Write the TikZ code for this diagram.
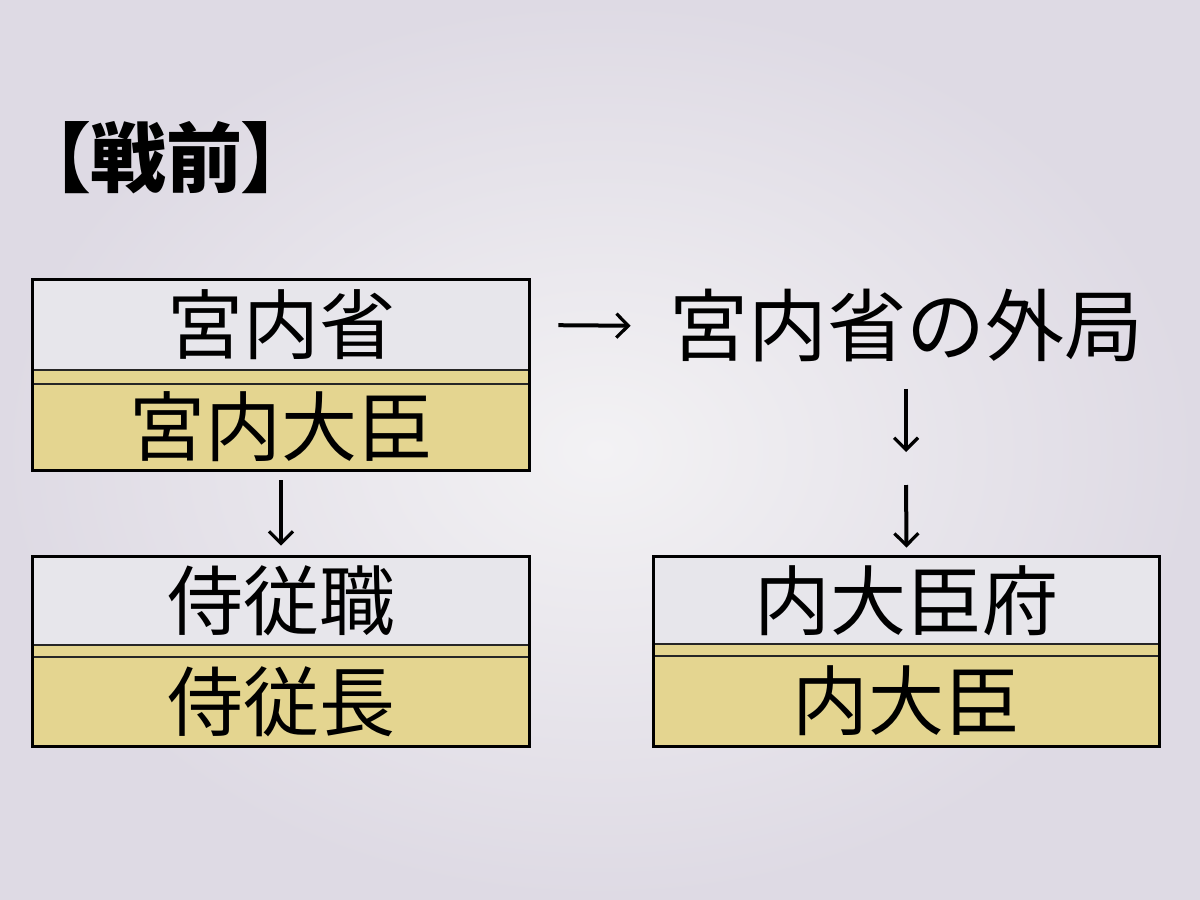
\documentclass[tikz,border=0pt]{standalone}
\usepackage{fontspec}
\newfontfamily\jp{Noto Sans CJK JP}
\newfontfamily\jppalt[RawFeature=+palt]{Noto Sans CJK JP}
\usetikzlibrary{arrows.meta}
\definecolor{bgin}{HTML}{F3F2F4}
\definecolor{bgout}{HTML}{DEDAE4}
\definecolor{cellgray}{HTML}{E7E6EB}
\definecolor{cellyellow}{HTML}{E4D590}
\tikzset{
  celltext/.style={font=\jp\fontsize{38pt}{40pt}\selectfont, text=black, inner sep=0pt},
  topcell/.style={celltext, fill=cellgray, minimum width=248pt, minimum height=45pt},
  botcell/.style={celltext, fill=cellyellow, minimum width=248pt, minimum height=43pt},
  frame/.style={draw=black, line width=1.6pt},
  sepline/.style={draw=black!85, line width=1pt},
  plain/.style={celltext, font=\jp\fontsize{39.5pt}{41pt}\selectfont},
  titletext/.style={font=\jppalt\bfseries\fontsize{38pt}{40pt}\selectfont, text=black, inner sep=0pt},
  glypharrow/.style={draw=black, line width=2pt, -{Straight Barb[length=6pt,width=12pt,line width=1.6pt]}}
}
\begin{document}
\begin{tikzpicture}[x=0.5pt,y=-0.5pt]
\useasboundingbox (0,0) rectangle (1200,900);
\shade[inner color=bgin, outer color=bgout] (0,0) rectangle (1200,900);

% title
\node[titletext] (ttl) at (166,158) {【戦前】};

% box 1
\node[topcell] (t1) at (281,325) {宮内省};
\fill[cellyellow] (33,370) rectangle (529,384);
\node[botcell] (y1) at (281,427) {宮内大臣};
\draw[sepline] (33,370) -- (529,370);
\draw[sepline] (33,384) -- (529,384);
\draw[frame] (t1.north west) rectangle (y1.south east);

% box 2
\node[topcell, minimum height=44pt] (t2) at (281,601) {侍従職};
\fill[cellyellow] (33,645) rectangle (529,657);
\node[botcell, minimum height=44.5pt] (y2) at (281,701.5) {侍従長};
\draw[sepline] (33,645) -- (529,645);
\draw[sepline] (33,657) -- (529,657);
\draw[frame] (t2.north west) rectangle (y2.south east);

% box 3
\node[topcell, minimum width=252.5pt, minimum height=43.5pt] (t3) at (906.5,600.5) {内大臣府};
\fill[cellyellow] (654,644) rectangle (1159,656);
\node[botcell, minimum width=252.5pt, minimum height=45pt] (y3) at (906.5,701) {内大臣};
\draw[sepline] (654,644) -- (1159,644);
\draw[sepline] (654,656) -- (1159,656);
\draw[frame] (t3.north west) rectangle (y3.south east);

% outer bureau text
\node[plain] (kg) at (906,326) {宮内省の外局};
\coordinate (m) at (906,470);

% connectors
\draw[glypharrow, shorten <=14.5pt, shorten >=19pt] (t1.east) -- (kg.west);
\draw[glypharrow, shorten <=5pt, shorten >=5.5pt] (y1.south) -- (t2.north);
\draw[glypharrow, shorten <=13pt, shorten >=9pt] (kg.south) -- (m);
\draw[glypharrow, shorten <=7.5pt, shorten >=4.5pt] (m) -- (t3.north);
\end{tikzpicture}
\end{document}
